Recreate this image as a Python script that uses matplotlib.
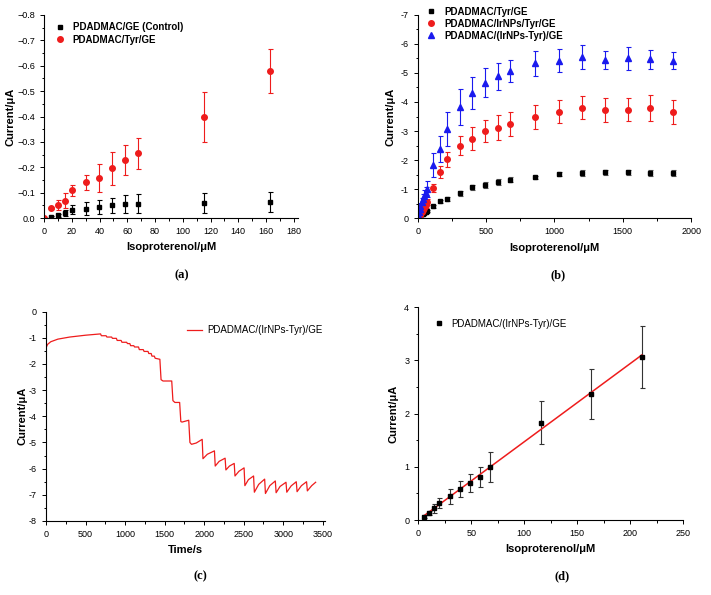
import numpy as np
import matplotlib.pyplot as plt
from matplotlib.ticker import MultipleLocator

plt.rcParams['font.family'] = ['Liberation Sans', 'DejaVu Sans']
plt.rcParams['axes.unicode_minus'] = False

# ---- panel (a) ----
xa = [5, 10, 15, 20, 30, 39.5, 49, 58, 67.5, 115.5, 163]
ya_ctrl = [-0.005, -0.01, -0.02, -0.033, -0.037, -0.042, -0.05, -0.055, -0.057, -0.06, -0.062]
ea_ctrl = [0.003, 0.005, 0.012, 0.018, 0.025, 0.027, 0.03, 0.035, 0.037, 0.04, 0.04]
xa_tyr = [0, 5, 10, 15, 20, 30, 39.5, 49, 58, 67.5, 115.5, 163]
ya_tyr = [0.0, -0.04, -0.05, -0.068, -0.11, -0.14, -0.158, -0.197, -0.228, -0.255, -0.398, -0.58]
ea_tyr = [0.0, 0.005, 0.02, 0.03, 0.022, 0.03, 0.055, 0.065, 0.06, 0.062, 0.097, 0.086]

# ---- panel (b) ----
xb = [5, 10, 15, 20, 30, 40, 49, 58, 67, 115, 163, 211, 306, 400, 494, 585, 675,
      855, 1030, 1200, 1370, 1540, 1700, 1865]
yb_tyr = [-0.02, -0.05, -0.08, -0.1, -0.13, -0.15, -0.18, -0.2, -0.23, -0.4, -0.57, -0.66,
          -0.85, -1.06, -1.15, -1.25, -1.32, -1.4, -1.51, -1.56, -1.57, -1.57, -1.56, -1.55]
eb_tyr = [0.01, 0.01, 0.02, 0.02, 0.02, 0.03, 0.03, 0.03, 0.03, 0.05, 0.06, 0.07,
          0.08, 0.08, 0.1, 0.1, 0.08, 0.06, 0.07, 0.1, 0.1, 0.1, 0.1, 0.09]
yb_ir = [-0.04, -0.06, -0.1, -0.14, -0.2, -0.28, -0.36, -0.45, -0.55, -1.03, -1.59, -2.02,
         -2.5, -2.74, -3.0, -3.12, -3.25, -3.48, -3.66, -3.8, -3.72, -3.73, -3.79, -3.65]
eb_ir = [0.02, 0.03, 0.04, 0.05, 0.06, 0.07, 0.08, 0.09, 0.1, 0.15, 0.2, 0.25,
         0.33, 0.4, 0.37, 0.42, 0.42, 0.4, 0.4, 0.4, 0.42, 0.4, 0.44, 0.42]
yb_irt = [-0.1, -0.2, -0.3, -0.4, -0.55, -0.65, -0.75, -0.85, -1.0, -1.83, -2.38, -3.07,
          -3.84, -4.32, -4.67, -4.88, -5.07, -5.33, -5.43, -5.55, -5.45, -5.51, -5.48, -5.43]
eb_irt = [0.05, 0.07, 0.1, 0.12, 0.15, 0.18, 0.2, 0.22, 0.27, 0.4, 0.45, 0.58,
          0.62, 0.55, 0.5, 0.45, 0.37, 0.42, 0.4, 0.4, 0.3, 0.4, 0.33, 0.28]

# ---- panel (c) amperometric trace vertices ----
tc = [0, 5, 20, 60, 150, 300, 500, 690,
      700, 760, 770, 830, 840, 890, 900, 950, 960, 1020, 1030, 1060, 1070, 1110,
      1120, 1170, 1180, 1230, 1240, 1290, 1300, 1330, 1340, 1370, 1380, 1440,
      1455, 1480, 1590, 1605, 1630, 1690, 1705, 1720, 1805,
      1820, 1840, 1900, 1975, 1985, 2040, 2130, 2140, 2190, 2265, 2275, 2320, 2380,
      2390, 2440, 2505, 2515, 2560, 2625, 2635, 2690, 2765, 2775, 2830, 2900,
      2910, 2960, 3035, 3045, 3100, 3165, 3175, 3230, 3295, 3305, 3360, 3410]
ic = [-1.55, -1.35, -1.25, -1.15, -1.05, -0.97, -0.9, -0.85,
      -0.92, -0.92, -0.97, -0.97, -1.02, -1.02, -1.1, -1.1, -1.17, -1.17, -1.22, -1.22, -1.3, -1.3,
      -1.35, -1.35, -1.45, -1.45, -1.52, -1.52, -1.6, -1.6, -1.7, -1.7, -1.78, -1.82,
      -2.6, -2.65, -2.65, -3.4, -3.47, -3.47, -4.2, -4.22, -4.15,
      -5.0, -5.07, -5.02, -4.88, -5.62, -5.45, -5.32, -5.9, -5.72, -5.6, -6.05, -5.9, -5.8,
      -6.28, -6.1, -5.97, -6.65, -6.42, -6.28, -6.9, -6.6, -6.4, -6.95, -6.65, -6.47,
      -6.92, -6.68, -6.52, -6.9, -6.66, -6.5, -6.88, -6.65, -6.5, -6.85, -6.65, -6.52]

# ---- panel (d) ----
xd = [5, 10, 15, 20, 30, 39.5, 49, 58, 67.5, 115.5, 163, 211]
yd = [0.06, 0.13, 0.22, 0.32, 0.45, 0.58, 0.7, 0.81, 1.0, 1.83, 2.37, 3.07]
ed = [0.03, 0.04, 0.08, 0.1, 0.14, 0.15, 0.17, 0.18, 0.28, 0.4, 0.47, 0.58]

fig = plt.figure(figsize=(7.11, 5.95), dpi=100)
axa = fig.add_axes([0.0619, 0.6336, 0.3572, 0.3412])
axb = fig.add_axes([0.5875, 0.6336, 0.3845, 0.3412])
axc = fig.add_axes([0.0647, 0.1244, 0.3926, 0.3518])
axd = fig.add_axes([0.5883, 0.1260, 0.3727, 0.3575])

tfs = 6.5
lfs = 8
kw = dict(capsize=1.8, elinewidth=0.8, capthick=0.8)

def style(ax, pad=4):
    ax.spines['top'].set_visible(False)
    ax.spines['right'].set_visible(False)
    ax.tick_params(which='both', direction='out', labelsize=tfs, width=0.7)
    ax.tick_params(which='major', length=3)
    ax.tick_params(which='minor', length=1.8)
    ax.set_ylabel("Current/μA", fontsize=lfs, fontweight='bold', labelpad=pad)

def marker_legend(ax, anchor, spacing, bold):
    h, l = ax.get_legend_handles_labels()
    h = [c[0] if hasattr(c, 'lines') else c for c in h]
    prop = {'size': 7, 'weight': 'bold' if bold else 'normal'}
    ax.legend(h, l, loc='upper left', bbox_to_anchor=anchor, frameon=False,
              handletextpad=0.3, labelspacing=spacing, prop=prop, borderaxespad=0)

# (a)
axa.errorbar(xa, ya_ctrl, yerr=ea_ctrl, fmt='s', color='black', ms=3.5,
             label="PDADMAC/GE (Control)", **kw)
axa.errorbar(xa_tyr, ya_tyr, yerr=ea_tyr, fmt='o', color='#ee1c1c', ms=4,
             label="PDADMAC/Tyr/GE", **kw)
axa.set_xlim(0, 183)
axa.set_ylim(0, -0.8)
axa.xaxis.set_major_locator(MultipleLocator(20))
axa.xaxis.set_minor_locator(MultipleLocator(10))
axa.yaxis.set_major_locator(MultipleLocator(0.1))
axa.yaxis.set_minor_locator(MultipleLocator(0.05))
axa.yaxis.set_major_formatter(plt.FuncFormatter(
    lambda v, p: "0.0" if abs(v) < 1e-9 else f"{v:.1f}".replace("-", "\u2212")))
style(axa, pad=1)
axa.set_xlabel("Isoproterenol/μM", fontsize=lfs, fontweight='bold')
marker_legend(axa, (0.01, 0.985), 0.3, True)

# (b)
axb.errorbar(xb, yb_tyr, yerr=eb_tyr, fmt='s', color='black', ms=3.5, ecolor='#555555',
             label="PDADMAC/Tyr/GE", **kw)
axb.errorbar(xb, yb_ir, yerr=eb_ir, fmt='o', color='#ee1c1c', ms=4,
             label="PDADMAC/IrNPs/Tyr/GE", **kw)
axb.errorbar(xb, yb_irt, yerr=eb_irt, fmt='^', color='#1a1aee', ms=4,
             label="PDADMAC/(IrNPs-Tyr)/GE", **kw)
axb.set_xlim(0, 2000)
axb.set_ylim(0, -7)
axb.xaxis.set_major_locator(MultipleLocator(500))
axb.xaxis.set_minor_locator(MultipleLocator(250))
axb.yaxis.set_major_locator(MultipleLocator(1))
axb.yaxis.set_minor_locator(MultipleLocator(0.5))
axb.yaxis.set_major_formatter(plt.FuncFormatter(
    lambda v, p: "0" if abs(v) < 1e-9 else f"{v:.0f}"))
style(axb)
axb.set_xlabel("Isoproterenol/μM", fontsize=lfs, fontweight='bold', labelpad=5)
marker_legend(axb, (0.0, 1.06), 0.2, True)

# (c)
axc.plot(tc, ic, color='#ee1c1c', lw=0.9, label="PDADMAC/(IrNPs-Tyr)/GE")
axc.set_xlim(0, 3530)
axc.set_ylim(-8, 0)
axc.xaxis.set_major_locator(MultipleLocator(500))
axc.xaxis.set_minor_locator(MultipleLocator(250))
axc.yaxis.set_major_locator(MultipleLocator(1))
axc.yaxis.set_minor_locator(MultipleLocator(0.5))
style(axc, pad=1)
axc.set_xlabel("Time/s", fontsize=lfs, fontweight='bold')
axc.legend(loc='upper left', bbox_to_anchor=(0.49, 0.955), frameon=False, borderaxespad=0,
           handlelength=1.6, handletextpad=0.5, prop={'size': 7})

# (d)
axd.errorbar(xd, yd, yerr=ed, fmt='s', color='black', ecolor='#333333', ms=3.5,
             label="PDADMAC/(IrNPs-Tyr)/GE", **kw)
k, b = np.polyfit(xd, yd, 1)
xf = np.array([xd[0], xd[-1]])
axd.plot(xf, k * xf + b, color='#ee1c1c', lw=1.1)
axd.set_xlim(0, 250)
axd.set_ylim(0, 4)
axd.xaxis.set_major_locator(MultipleLocator(50))
axd.xaxis.set_minor_locator(MultipleLocator(25))
axd.yaxis.set_major_locator(MultipleLocator(1))
axd.yaxis.set_minor_locator(MultipleLocator(0.5))
style(axd)
axd.set_xlabel("Isoproterenol/μM", fontsize=lfs, fontweight='bold')
marker_legend(axd, (0.025, 0.965), 0.4, False)

# panel captions
for txt, x, y in [("(a)", 182, 275), ("(b)", 558, 275), ("(c)", 200, 576), ("(d)", 562, 576)]:
    fig.text(x / 711, 1 - y / 595, txt, ha='center', va='center', fontsize=9,
             fontweight='bold', family='Liberation Serif')

fig.savefig("out.png", dpi=100)
